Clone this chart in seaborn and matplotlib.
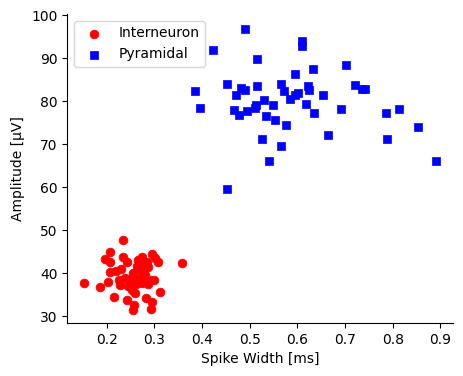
import numpy as np
import pandas as pd
import matplotlib
matplotlib.use("Agg")
import matplotlib.pyplot as plt
import seaborn as sns

# Interneuron cluster (spike width ms, amplitude uV)
inter_width = [0.235, 0.153, 0.185, 0.358, 0.207, 0.197, 0.206, 0.234, 0.242, 0.274,
               0.295, 0.307, 0.284, 0.207, 0.230, 0.263, 0.256, 0.263, 0.270, 0.249,
               0.225, 0.202, 0.228, 0.291, 0.300, 0.280, 0.274, 0.253, 0.260, 0.311,
               0.216, 0.242, 0.258, 0.256, 0.283, 0.295, 0.293, 0.239, 0.268, 0.278,
               0.286, 0.262, 0.275, 0.287, 0.245, 0.302, 0.265, 0.220]
inter_amp = [47.7, 37.6, 36.8, 42.3, 44.8, 43.3, 42.7, 43.8, 42.7, 43.8,
             44.5, 42.7, 42.7, 40.3, 41.0, 41.7, 40.0, 38.5, 38.9, 38.4,
             38.4, 38.0, 37.2, 38.4, 38.5, 39.5, 40.6, 36.1, 35.3, 35.7,
             34.4, 33.7, 32.6, 31.4, 34.1, 33.3, 31.6, 38.8, 41.0, 42.0,
             41.5, 37.5, 37.8, 37.5, 37.0, 43.5, 43.0, 40.5]

# Pyramidal cluster
pyr_width = [0.491, 0.609, 0.609, 0.424, 0.515, 0.595, 0.632, 0.386, 0.395, 0.453,
             0.481, 0.490, 0.472, 0.516, 0.566, 0.571, 0.585, 0.595, 0.623, 0.625,
             0.602, 0.467, 0.478, 0.494, 0.511, 0.513, 0.530, 0.548, 0.534, 0.553,
             0.576, 0.618, 0.634, 0.526, 0.566, 0.654, 0.701, 0.721, 0.735, 0.742,
             0.692, 0.665, 0.785, 0.814, 0.788, 0.852, 0.891, 0.541, 0.453]
pyr_amp = [96.8, 93.9, 92.8, 92.0, 89.7, 86.4, 87.5, 82.3, 78.3, 84.1,
           83.1, 82.5, 81.4, 83.6, 84.1, 82.3, 80.5, 81.5, 83.5, 82.5,
           81.9, 78.0, 76.8, 77.8, 78.4, 79.2, 80.2, 79.2, 76.5, 75.7,
           74.4, 79.3, 77.3, 71.2, 69.5, 81.5, 88.3, 83.8, 82.9, 82.9,
           78.2, 72.1, 77.2, 78.2, 71.3, 74.0, 66.1, 66.1, 59.5]

fig, ax = plt.subplots(figsize=(4.63, 3.76), dpi=100)
fig.subplots_adjust(left=0.145, right=0.978, top=0.963, bottom=0.141)

sns.scatterplot(x=inter_width, y=inter_amp, color="red", marker="o", s=40,
                edgecolor="face", linewidth=0.5, label="Interneuron", ax=ax)
sns.scatterplot(x=pyr_width, y=pyr_amp, color="blue", marker="s", s=40,
                edgecolor="face", linewidth=0.5, label="Pyramidal", ax=ax)

ax.set_xlim(0.117, 0.926)
ax.set_ylim(28.4, 100.3)
ax.set_yticks([30, 40, 50, 60, 70, 80, 90, 100])
ax.set_xlabel("Spike Width [ms]")
ax.set_ylabel("Amplitude [\u03bcV]")
ax.legend(loc="upper left")
sns.despine(ax=ax)

fig.savefig("out.png", dpi=100)
